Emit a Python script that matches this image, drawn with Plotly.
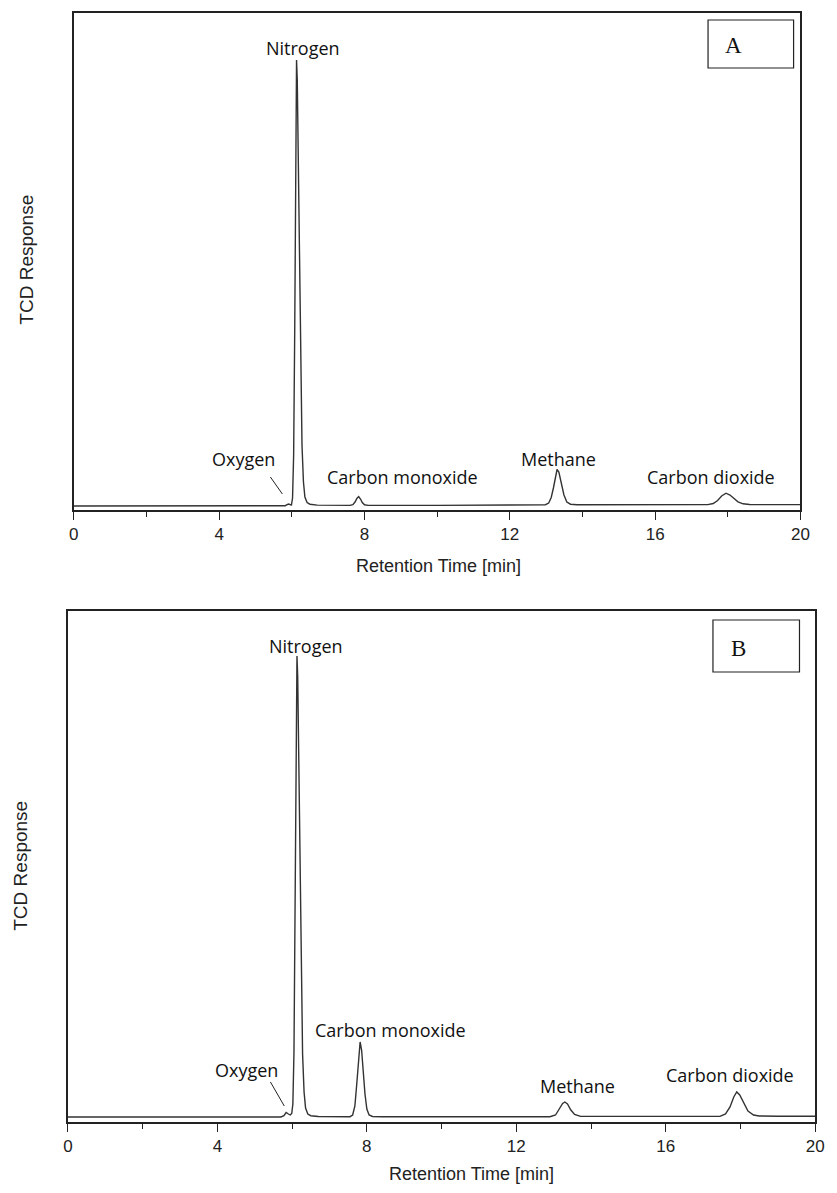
import plotly.graph_objects as go

# ---------------- data (arbitrary TCD response units) ----------------
# Panel A
time_a = [0.0, 3.0, 5.7, 5.82, 5.88, 5.92, 5.96, 5.99, 6.02, 6.05, 6.08, 6.10, 6.12, 6.13, 6.15,
          6.18, 6.21, 6.24, 6.28, 6.32, 6.36, 6.42, 6.5, 6.7, 7.0, 7.6, 7.68, 7.74, 7.79, 7.84,
          7.89, 7.94, 8.0, 8.1, 10.0, 12.8, 12.98, 13.07, 13.14, 13.2, 13.26, 13.3, 13.35, 13.42,
          13.49, 13.57, 13.67, 13.85, 16.0, 17.45, 17.6, 17.72, 17.83, 17.95, 18.06, 18.16, 18.28,
          18.42, 18.6, 19.0, 20.0]
resp_a = [4.0, 4.0, 4.0, 4.3, 5.5, 6.0, 5.2, 5.0, 12, 55, 180, 320, 430, 450, 430,
          340, 230, 140, 65, 28, 13, 7.5, 5.8, 4.9, 4.6, 4.6, 5.4, 8.0, 11.5, 13.5,
          11.0, 7.5, 5.2, 4.6, 4.6, 4.8, 5.3, 7.0, 12.5, 22, 35, 40.5, 38, 27,
          15, 8.0, 5.8, 5.2, 5.2, 5.4, 6.5, 9.5, 14.0, 16.8, 15.0, 12.0, 8.2,
          6.2, 5.5, 5.4, 5.4]

# Panel B
time_b = [0.0, 3.0, 5.7, 5.78, 5.84, 5.9, 5.95, 5.99, 6.02, 6.05, 6.08, 6.10, 6.12, 6.13, 6.15,
          6.18, 6.21, 6.24, 6.28, 6.32, 6.36, 6.42, 6.5, 6.7, 7.0, 7.55, 7.62, 7.68, 7.73, 7.78,
          7.82, 7.86, 7.9, 7.95, 8.0, 8.06, 8.15, 8.4, 10.0, 12.9, 13.05, 13.15, 13.24, 13.3,
          13.37, 13.46, 13.56, 13.72, 16.0, 17.45, 17.6, 17.72, 17.82, 17.9, 17.98, 18.08, 18.2,
          18.35, 18.5, 19.0, 20.0]
resp_b = [5.0, 5.0, 5.0, 6.3, 9.5, 8.0, 7.0, 8.5, 18, 70, 200, 340, 445, 466, 445,
          350, 240, 145, 68, 30, 14, 8.0, 6.3, 5.5, 5.2, 5.3, 7.0, 16, 38, 65,
          80, 72, 52, 28, 13, 7.0, 5.5, 5.2, 5.2, 5.3, 7.0, 12.5, 18.5, 20.0,
          18, 12, 7.5, 5.6, 5.5, 5.6, 8.0, 15.0, 25.0, 30.0, 27.0, 19.0, 11.0,
          7.0, 6.0, 5.8, 5.8]

x_ticks = [0, 4, 8, 12, 16, 20]
x_ticklabels = ["0", "4", "8", "12", "16", "20"]

peak_names = ["Oxygen", "Nitrogen", "Carbon monoxide", "Methane", "Carbon dioxide"]
# label anchor positions (time, response) for each panel
label_t_a = [4.68, 6.31, 9.04, 13.34, 17.54]
label_y_a = [51, 462, 33, 51, 33]
label_t_b = [4.79, 6.37, 8.63, 13.63, 17.71]
label_y_b = [52, 476, 92, 36, 47]
# oxygen leader lines (t0, y0, t1, y1)
leader_a = [5.41, 33, 5.74, 16]
leader_b = [5.42, 40, 5.79, 16]

y_range_a = [0, 497]
y_range_b = [0, 511]

# ---------------- figure ----------------
W, H = 837, 1193
fig = go.Figure()

line_col = "#333333"
fig.add_trace(go.Scatter(x=time_a, y=resp_a, mode="lines", xaxis="x", yaxis="y",
                         line=dict(color=line_col, width=1.4), showlegend=False,
                         hoverinfo="skip"))
fig.add_trace(go.Scatter(x=time_b, y=resp_b, mode="lines", xaxis="x2", yaxis="y2",
                         line=dict(color=line_col, width=1.4), showlegend=False,
                         hoverinfo="skip"))

def px_x(p):
    return p / W

def px_y(p):
    return 1 - p / H

tick_font = dict(family="Liberation Sans, Arial", size=17, color="#222222")

def xaxis_cfg(left, right, anchor):
    return dict(domain=[px_x(left), px_x(right)], anchor=anchor, range=[0, 20],
                tickmode="array", tickvals=x_ticks, ticktext=x_ticklabels,
                ticks="outside", ticklen=8, tickwidth=1.3, tickcolor="#222222",
                minor=dict(dtick=2, tick0=0, ticks="outside", ticklen=5, tickwidth=1.2,
                           tickcolor="#222222"),
                showline=True, linecolor="#222222", linewidth=1.8, mirror=True,
                showgrid=False, zeroline=False, tickfont=tick_font, fixedrange=True)

def yaxis_cfg(top, bottom, anchor, rng):
    return dict(domain=[px_y(bottom), px_y(top)], anchor=anchor, range=rng,
                showline=True, linecolor="#222222", linewidth=1.8, mirror=True,
                showticklabels=False, ticks="", showgrid=False, zeroline=False,
                fixedrange=True)

# panel geometry (pixels)
A = dict(left=70, right=809, top=13, bottom=510)
B = dict(left=64, right=824, top=611, bottom=1122)

fig.update_layout(
    width=W, height=H,
    margin=dict(l=0, r=0, t=0, b=0),
    paper_bgcolor="white", plot_bgcolor="white",
    xaxis=xaxis_cfg(A["left"], A["right"], "y"),
    yaxis=yaxis_cfg(A["top"], A["bottom"], "x", y_range_a),
    xaxis2=xaxis_cfg(B["left"], B["right"], "y2"),
    yaxis2=yaxis_cfg(B["top"], B["bottom"], "x2", y_range_b),
)

label_font = dict(family="Open Sans, Noto Sans", size=18, color="#111111")
annotations = []
for name, t, y in zip(peak_names, label_t_a, label_y_a):
    annotations.append(dict(x=t, y=y, xref="x", yref="y", text=name, showarrow=False,
                            font=label_font, xanchor="center", yanchor="middle"))
for name, t, y in zip(peak_names, label_t_b, label_y_b):
    annotations.append(dict(x=t, y=y, xref="x2", yref="y2", text=name, showarrow=False,
                            font=label_font, xanchor="center", yanchor="middle"))

title_font = dict(family="Liberation Sans, Arial", size=18, color="#222222")
ytitle_font = dict(family="Liberation Sans, Arial", size=19, color="#222222")
# y titles
annotations.append(dict(x=px_x(22), y=px_y(260), xref="paper", yref="paper",
                        text="TCD Response", textangle=-90, showarrow=False, font=ytitle_font,
                        xanchor="center", yanchor="middle"))
annotations.append(dict(x=px_x(16), y=px_y(866), xref="paper", yref="paper",
                        text="TCD Response", textangle=-90, showarrow=False, font=ytitle_font,
                        xanchor="center", yanchor="middle"))
# x titles
annotations.append(dict(x=px_x(441), y=px_y(566), xref="paper", yref="paper",
                        text="Retention Time [min]", showarrow=False, font=title_font,
                        xanchor="center", yanchor="middle"))
annotations.append(dict(x=px_x(474), y=px_y(1174), xref="paper", yref="paper",
                        text="Retention Time [min]", showarrow=False, font=title_font,
                        xanchor="center", yanchor="middle"))
# panel letters
letter_font = dict(family="Liberation Serif, Times New Roman", size=23, color="#111111")
annotations.append(dict(x=px_x(741), y=px_y(45), xref="paper", yref="paper", text="A",
                        showarrow=False, font=letter_font, xanchor="center", yanchor="middle"))
annotations.append(dict(x=px_x(746), y=px_y(648), xref="paper", yref="paper", text="B",
                        showarrow=False, font=letter_font, xanchor="center", yanchor="middle"))

shapes = [
    dict(type="rect", xref="paper", yref="paper", x0=px_x(715), x1=px_x(802), y0=px_y(68), y1=px_y(20),
         line=dict(color="#222222", width=1.2), fillcolor="white"),
    dict(type="rect", xref="paper", yref="paper", x0=px_x(720), x1=px_x(808), y0=px_y(672), y1=px_y(620),
         line=dict(color="#222222", width=1.2), fillcolor="white"),
    dict(type="line", xref="x", yref="y", x0=leader_a[0], y0=leader_a[1], x1=leader_a[2], y1=leader_a[3],
         line=dict(color="#222222", width=1)),
    dict(type="line", xref="x2", yref="y2", x0=leader_b[0], y0=leader_b[1], x1=leader_b[2], y1=leader_b[3],
         line=dict(color="#222222", width=1)),
]

fig.update_layout(annotations=annotations, shapes=shapes)
fig.write_html("out.html")
